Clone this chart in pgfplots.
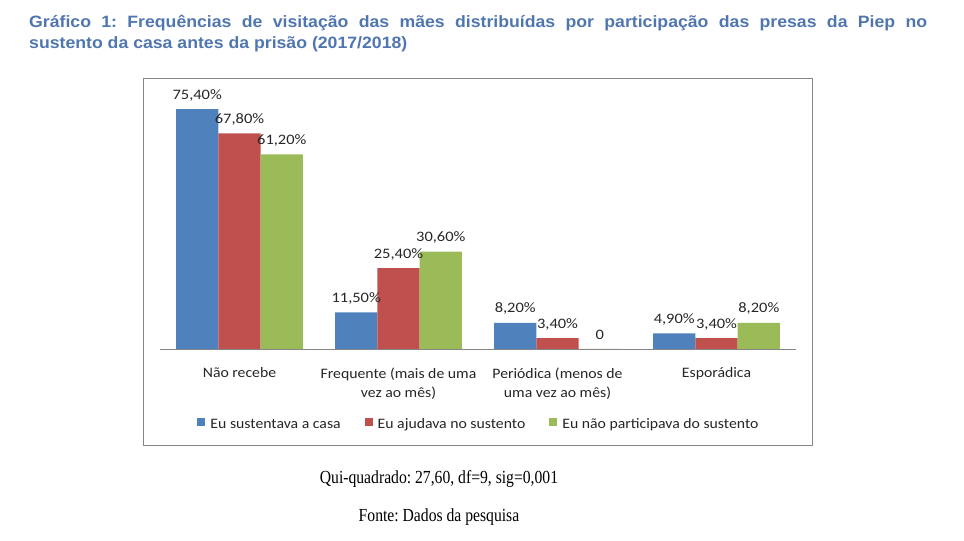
\documentclass[border=0pt]{standalone}
\usepackage{pgfplots}
\pgfplotsset{compat=1.18}
\usepackage{fontspec}
\setmainfont{Carlito}
\newfontfamily\titlefont[FakeStretch=1.075]{Liberation Sans}
\newfontfamily\seriffont[FakeStretch=0.85]{Liberation Serif}
\newfontfamily\chartfont[FakeStretch=1.09]{Carlito}
\newfontfamily\labelfont[FakeStretch=1.14]{Carlito}
\definecolor{tblue}{RGB}{80,118,176}
\definecolor{cblue}{RGB}{79,129,189}
\definecolor{cred}{RGB}{192,80,77}
\definecolor{cgreen}{RGB}{155,187,89}
\definecolor{framegray}{RGB}{134,134,134}
\definecolor{axisgray}{RGB}{134,134,134}
\begin{document}
\frenchspacing
\begin{tikzpicture}[x=1bp,y=1bp]
\path[use as bounding box] (0,0) rectangle (964,541);
\node[anchor=base west, inner sep=0, text=tblue] at (29,513.5)
  {\parbox[t]{898bp}{\frenchspacing\titlefont\bfseries\fontsize{16.5}{21.3}\selectfont Gráfico 1: Frequências de visitação das mães distribuídas por participação das presas da Piep no\linebreak sustento da casa antes da prisão (2017/2018)}};
\draw[framegray, line width=0.9bp] (143,96) rectangle (812.5,463);
\begin{axis}[
  at={(160bp,192bp)}, anchor=south west,
  scale only axis, width=636bp, height=254.4bp,
  ymin=0, ymax=80, xmin=-0.5, xmax=3.5,
  ybar=0pt, bar width=42.3bp,
  axis x line*=bottom, axis y line=none,
  x axis line style={axisgray, line width=0.9bp, -},
  xtick={0,1,2,3}, ytick=\empty,
  major tick length=0pt,
  xticklabels={N\~ao recebe, {Frequente (mais de uma\\vez ao mês)}, {Periódica (menos de\\uma vez ao mês)}, Esporádica},
  xticklabel style={align=center, anchor=north, yshift=-15bp, font=\chartfont\fontsize{14.5}{20}\selectfont, text=black!85},
  point meta=explicit symbolic,
  nodes near coords,
  every node near coord/.append style={anchor=center, yshift=14bp, font=\labelfont\fontsize{14.5}{17}\selectfont, text=black!85},
  legend columns=3,
  legend style={draw=none, at={(0.5,-0.299)}, anchor=center, font=\chartfont\fontsize{14.5}{17}\selectfont, text=black!85,
    nodes={inner xsep=0pt, text height=0.72em, text depth=0.22em},
    /tikz/every odd column/.append style={column sep=5bp},
    /tikz/every even column/.append style={column sep=24bp}},
  legend image code/.code={\fill[#1] (0bp,0bp) rectangle (8bp,8bp);},
]
\addplot[fill=cblue, draw=none] coordinates {(0,75.4) [75,40\%] (1,11.5) [11,50\%] (2,8.2) [8,20\%] (3,4.9) [4,90\%]};
\addplot[fill=cred, draw=none] coordinates {(0,67.8) [67,80\%] (1,25.4) [25,40\%] (2,3.4) [3,40\%] (3,3.4) [3,40\%]};
\addplot[fill=cgreen, draw=none] coordinates {(0,61.2) [61,20\%] (1,30.6) [30,60\%] (2,0) [0] (3,8.2) [8,20\%]};
\legend{Eu sustentava a casa, Eu ajudava no sustento, Eu não participava do sustento}
\end{axis}
\node[anchor=base, inner sep=0, font=\seriffont\fontsize{18.5}{21}\selectfont] at (439,57) {Qui-quadrado: 27,60, df=9, sig=0,001};
\node[anchor=base, inner sep=0, font=\seriffont\fontsize{18.5}{21}\selectfont] at (439,19) {Fonte: Dados da pesquisa};
\end{tikzpicture}
\end{document}
